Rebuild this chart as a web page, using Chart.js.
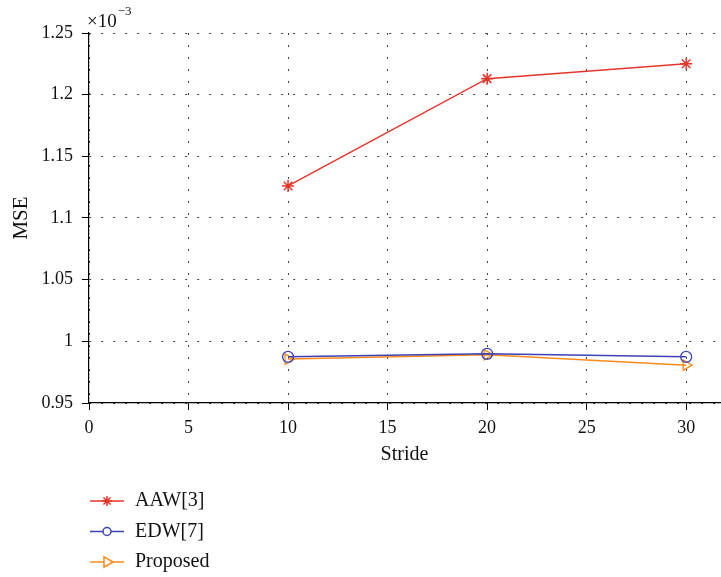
<!DOCTYPE html>
<html>
<head>
<meta charset="utf-8">
<script src="https://cdn.jsdelivr.net/npm/chart.js@4.4.1/dist/chart.umd.min.js"></script>
<style>
  html, body { margin: 0; padding: 0; background: #fff; }
  #wrap { width: 721px; height: 577px; }
</style>
</head>
<body>
<div id="wrap"><canvas id="chart-mse" width="721" height="577"></canvas></div>
<script>
  // values are shown in units of 1e-3 (see the x10^-3 label on the axis)
  var strides = [10, 20, 30];
  var aawValues = [1.126, 1.213, 1.225];
  var edwValues = [0.9874, 0.9899, 0.9874];
  var proposedValues = [0.9856, 0.9891, 0.9807];
  var seriesNames = ["AAW[3]", "EDW[7]", "Proposed"];
  var xTicks = [0, 5, 10, 15, 20, 25, 30];
  var yTicks = [0.95, 1, 1.05, 1.1, 1.15, 1.2, 1.25];

  var serif = "'Liberation Serif', 'DejaVu Serif', serif";

  function toPoints(values) {
    return strides.map(function (s, i) {
      return { x: s, y: values[i] };
    });
  }

  function fixTicks(list) {
    return function (scale) {
      scale.ticks = list.map(function (v) {
        return { value: v };
      });
    };
  }

  var extrasPlugin = {
    id: "extras",
    afterDraw: function (chart) {
      var ctx = chart.ctx;
      ctx.save();

      // exponent label above the y axis
      ctx.fillStyle = "#111";
      ctx.textAlign = "left";
      ctx.textBaseline = "alphabetic";
      ctx.font = "19px " + serif;
      ctx.fillText("\u00d710", 87, 27);
      var w = ctx.measureText("\u00d710").width;
      ctx.font = "13px " + serif;
      ctx.fillText("\u22123", 87 + w + 1, 15);

      // legend below the plot, one row per series
      var rowY = 501;
      var rowGap = 30.5;
      chart.data.datasets.forEach(function (d, i) {
        var y = rowY + i * rowGap;
        ctx.strokeStyle = d.borderColor;
        ctx.lineWidth = 1.5;
        ctx.beginPath();
        ctx.moveTo(90, y);
        ctx.lineTo(124, y);
        ctx.stroke();
        ctx.fillStyle = "#fff";
        Chart.helpers.drawPoint(ctx, {
          pointStyle: d.pointStyle,
          radius: d.legendRadius,
          rotation: d.pointRotation || 0,
          borderWidth: 1.5,
        }, 107, y);
        ctx.fillStyle = "#111";
        ctx.font = "20px " + serif;
        ctx.textBaseline = "middle";
        ctx.fillText(d.label, 135, y);
      });

      ctx.restore();
    },
  };

  var gridOpts = {
    color: "#444",
    lineWidth: 1,
    tickLength: 7,
    tickColor: "#000",
    tickWidth: 1,
    drawTicks: true,
  };

  new Chart(document.getElementById("chart-mse"), {
    type: "line",
    data: {
      datasets: [
        {
          label: seriesNames[0],
          data: toPoints(aawValues),
          borderColor: "#e4352b",
          backgroundColor: "transparent",
          pointStyle: "star",
          pointRadius: 6,
          pointBorderWidth: 1.5,
          legendRadius: 5,
          borderWidth: 1.5,
          tension: 0,
        },
        {
          label: seriesNames[1],
          data: toPoints(edwValues),
          borderColor: "#3c41b4",
          backgroundColor: "transparent",
          pointStyle: "circle",
          pointRadius: 5.5,
          pointBorderWidth: 1.3,
          legendRadius: 4,
          borderWidth: 1.5,
          tension: 0,
        },
        {
          label: seriesNames[2],
          data: toPoints(proposedValues),
          borderColor: "#ff8a1c",
          backgroundColor: "transparent",
          pointStyle: "triangle",
          pointRotation: 90,
          pointRadius: 6,
          pointBorderWidth: 1.3,
          legendRadius: 6,
          borderWidth: 1.5,
          tension: 0,
        },
      ],
    },
    options: {
      responsive: false,
      animation: false,
      devicePixelRatio: 1,
      layout: {
        autoPadding: false,
        padding: { top: 33, right: 1, left: 0, bottom: 0 },
      },
      plugins: {
        legend: { display: false },
        tooltip: { enabled: false },
      },
      scales: {
        x: {
          type: "linear",
          min: 0,
          max: 31.7,
          afterBuildTicks: fixTicks(xTicks),
          afterFit: function (scale) {
            scale.height = 174;
            scale.paddingLeft = 0;
            scale.paddingRight = 0;
          },
          grid: gridOpts,
          border: { display: true, color: "#000", width: 1.2, dash: [2, 10] },
          ticks: {
            color: "#111",
            padding: 7,
            font: { family: serif, size: 18 },
            callback: function (v) {
              return String(v);
            },
          },
          title: {
            display: true,
            text: "Stride",
            color: "#111",
            font: { family: serif, size: 20 },
            padding: { top: 0, bottom: 110 },
          },
        },
        y: {
          min: 0.95,
          max: 1.25,
          afterBuildTicks: fixTicks(yTicks),
          afterFit: function (scale) {
            scale.width = 89;
            scale.paddingTop = 0;
            scale.paddingBottom = 0;
          },
          grid: gridOpts,
          border: { display: true, color: "#000", width: 1.2, dash: [2, 10] },
          ticks: {
            color: "#111",
            padding: 9,
            font: { family: serif, size: 18 },
            callback: function (v) {
              return String(+v.toFixed(2));
            },
          },
          title: {
            display: true,
            text: "MSE",
            color: "#111",
            font: { family: serif, size: 21 },
            padding: { top: 9, bottom: 0 },
          },
        },
      },
    },
    plugins: [extrasPlugin],
  });
</script>
</body>
</html>
